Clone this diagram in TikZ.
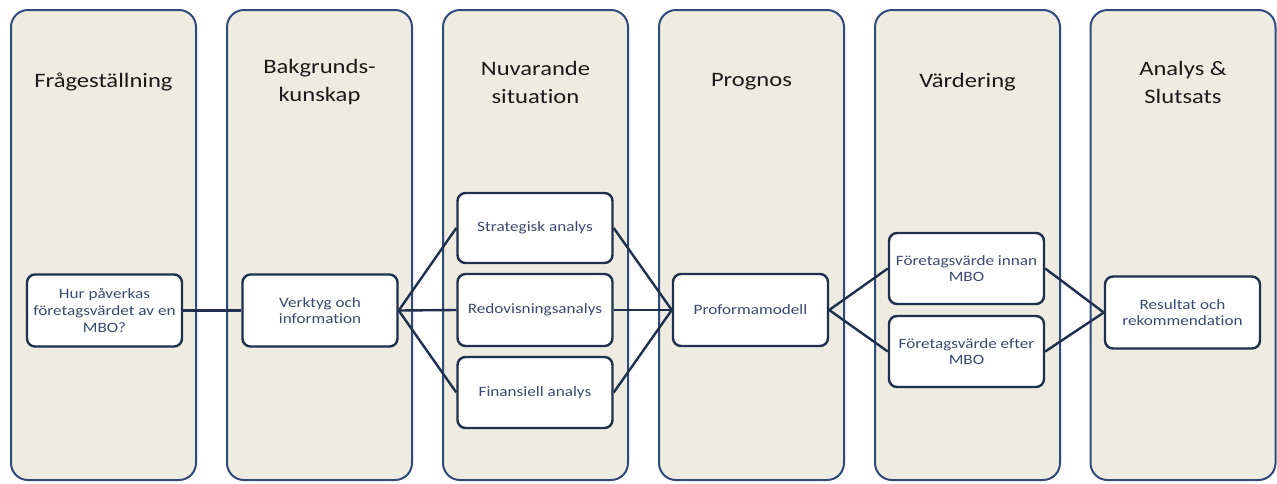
\documentclass[tikz,border=0pt]{standalone}
\usepackage{fontspec}
\setmainfont{Carlito}[FakeStretch=1.2,Ligatures=NoCommon]
\definecolor{colfill}{HTML}{EEEBE1}
\definecolor{colline}{HTML}{2E4A7D}
\definecolor{boxline}{HTML}{1E2F4F}
\definecolor{boxtext}{HTML}{3A4A6E}
\definecolor{titletext}{HTML}{1A1A1A}
\tikzset{
  colbox/.style={draw=colline, line width=2pt, fill=colfill, rounded corners=17pt,
    minimum width=185pt, minimum height=470pt, inner sep=0pt},
  coltitle/.style={text=titletext, font=\fontsize{20.5}{28}\selectfont, align=center, inner sep=0pt},
  stepbox/.style={draw=boxline, line width=2.4pt, fill=white, rounded corners=8pt,
    minimum width=155pt, minimum height=72pt, inner sep=2pt, align=center,
    text=boxtext, font=\fontsize{14.3}{16.8}\selectfont},
  link/.style={draw=boxline, line width=2.4pt}
}
\begin{document}
\begin{tikzpicture}[x=1pt,y=-1pt]
\useasboundingbox (0,0) rectangle (1277,483);
% columns
\node[colbox] (c1) at (103.5,245) {};
\node[colbox] (c2) at (319.5,245) {};
\node[colbox] (c3) at (535.5,245) {};
\node[colbox] (c4) at (751.5,245) {};
\node[colbox] (c5) at (967.5,245) {};
\node[colbox] (c6) at (1183,245) {};
% titles
\node[coltitle] (t1) at (103.5,82) {Frågeställning};
\node[coltitle] (t2) at (319.5,82) {Bakgrunds-\\kunskap};
\node[coltitle] (t3) at (535.5,82) {Nuvarande\\situation};
\node[coltitle] (t4) at (751.5,82) {Prognos};
\node[coltitle] (t5) at (967.5,82) {Värdering};
\node[coltitle] (t6) at (1183,82) {Analys \&\\Slutsats};
% boxes
\node[stepbox] (b1) at (104.5,310.5) {Hur påverkas\\företagsvärdet av en\\MBO?};
\node[stepbox] (b2) at (320,310.5) {Verktyg och\\information};
\node[stepbox, minimum height=70pt] (b3a) at (535,228) {Strategisk analys};
\node[stepbox] (b3b) at (535,310) {Redovisningsanalys};
\node[stepbox, minimum height=71pt] (b3c) at (535,392.5) {Finansiell analys};
\node[stepbox] (b4) at (750.5,310) {Proformamodell};
\node[stepbox, minimum height=71pt] (b5a) at (966.5,268.5) {Företagsvärde innan\\MBO};
\node[stepbox, minimum height=71pt] (b5b) at (966.5,351.5) {Företagsvärde efter\\MBO};
\node[stepbox] (b6) at (1182.5,312.5) {Resultat och\\rekommendation};
% connectors
\draw[link] (b1.east) -- (b2.west);
\draw[link] (b2.east) -- (b3a.west);
\draw[link] (b2.east) -- (b3b.west);
\draw[link] (b2.east) -- (b3c.west);
\draw[link] (b3a.east) -- (b4.west);
\draw[link] (b3b.east) -- (b4.west);
\draw[link] (b3c.east) -- (b4.west);
\draw[link] (b4.east) -- (b5a.west);
\draw[link] (b4.east) -- (b5b.west);
\draw[link] (b5a.east) -- (b6.west);
\draw[link] (b5b.east) -- (b6.west);
\end{tikzpicture}
\end{document}
